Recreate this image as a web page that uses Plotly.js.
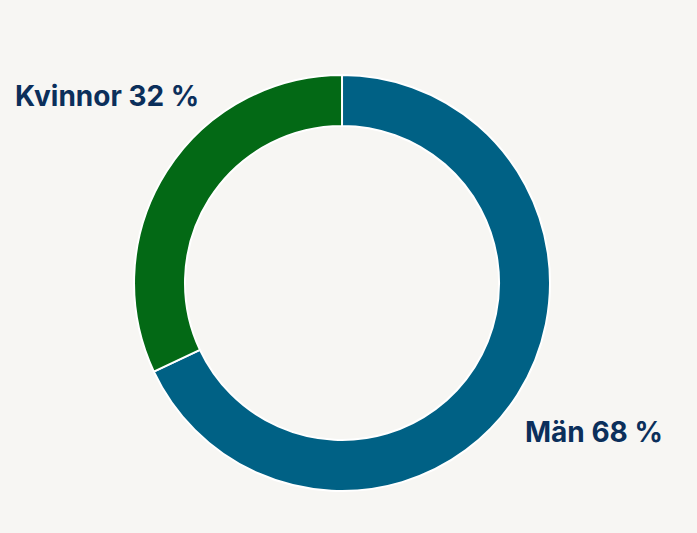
<!DOCTYPE html>
<html><head><meta charset="utf-8">
<script src="https://cdn.plot.ly/plotly-3.0.1.min.js"></script>
<style>html,body{margin:0;padding:0;background:#f7f6f3;}</style>
</head><body>
<div id="chart" style="width:697px;height:533px;"></div>
<script>
const categories = ["Män", "Kvinnor"];
const values = [68, 32];
const labelTexts = ["Män 68 %", "Kvinnor 32 %"];
const colors = ["#006185", "#036915"];

const trace = {
  type: "pie",
  labels: categories,
  values: values,
  hole: 0.755,
  sort: false,
  direction: "clockwise",
  rotation: 0,
  textinfo: "none",
  hoverinfo: "label+percent",
  marker: {colors: colors, line: {color: "#ffffff", width: 2}},
  domain: {x: [0.1923, 0.7891], y: [0.0788, 0.8593]},
  showlegend: false
};

const labelFont = {family: "Inter, 'Open Sans', sans-serif", size: 28, color: "#0b2f5b", weight: 700};

const layout = {
  width: 697, height: 533,
  margin: {l: 0, r: 0, t: 0, b: 0},
  paper_bgcolor: "#f7f6f3",
  plot_bgcolor: "#f7f6f3",
  showlegend: false,
  annotations: [
    {text: labelTexts[1], x: 13/697, y: 1 - 96/533, xref: "paper", yref: "paper", xanchor: "left", yanchor: "middle", showarrow: false, font: labelFont},
    {text: labelTexts[0], x: 523/697, y: 1 - 432/533, xref: "paper", yref: "paper", xanchor: "left", yanchor: "middle", showarrow: false, font: labelFont}
  ]
};

Plotly.newPlot("chart", [trace], layout, {displayModeBar: false, staticPlot: true});
</script>
</body></html>
